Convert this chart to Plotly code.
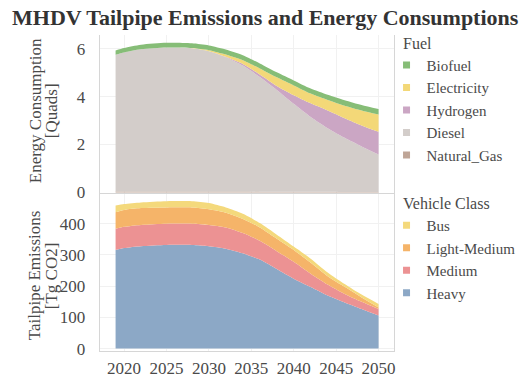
import plotly.graph_objects as go

# ---- data ----
years = [2019, 2020, 2022, 2025, 2028, 2030, 2032, 2034, 2036, 2038, 2040, 2042, 2044, 2046, 2048, 2050]

# Energy consumption by fuel [Quads]
natural_gas = [0.04, 0.04, 0.04, 0.04, 0.04, 0.04, 0.04, 0.04, 0.03, 0.03, 0.03, 0.03, 0.03, 0.02, 0.02, 0.02]
diesel      = [5.71, 5.81, 5.94, 6.01, 5.98, 5.86, 5.61, 5.26, 4.79, 4.25, 3.67, 3.12, 2.65, 2.26, 1.90, 1.56]
hydrogen    = [0.00, 0.00, 0.00, 0.00, 0.00, 0.00, 0.02, 0.07, 0.11, 0.17, 0.36, 0.57, 0.74, 0.82, 0.88, 0.95]
electricity = [0.00, 0.00, 0.00, 0.00, 0.01, 0.04, 0.09, 0.15, 0.25, 0.36, 0.41, 0.41, 0.44, 0.52, 0.62, 0.72]
biofuel     = [0.18, 0.18, 0.19, 0.20, 0.20, 0.20, 0.21, 0.21, 0.21, 0.21, 0.21, 0.21, 0.22, 0.23, 0.23, 0.23]

# Tailpipe emissions by vehicle class [Tg CO2]
heavy        = [316, 322, 328, 332, 332, 328, 320, 305, 285, 255, 224, 197, 170, 148, 127, 106]
medium       = [68, 68, 68, 68, 68, 68, 68, 65, 60, 57, 54, 43, 35, 27, 23, 21]
light_medium = [53, 54, 54, 52, 52, 50, 47, 45, 43, 40, 38, 35, 27, 23, 14, 5]
bus          = [21, 19, 18, 20, 20, 20, 17, 17, 14, 13, 11, 13, 12, 9, 9, 11]

x_ticks = [2020, 2025, 2030, 2035, 2040, 2045, 2050]

fuel_series = [  # bottom to top of the stack
    ("Natural_Gas", natural_gas, "#bfa597"),
    ("Diesel", diesel, "#d3cdca"),
    ("Hydrogen", hydrogen, "#cba6c4"),
    ("Electricity", electricity, "#f3d878"),
    ("Biofuel", biofuel, "#86bd77"),
]
class_series = [
    ("Heavy", heavy, "#8ca8c6"),
    ("Medium", medium, "#ec9293"),
    ("Light-Medium", light_medium, "#f5b469"),
    ("Bus", bus, "#f4d97c"),
]

FONT = "Liberation Serif"
TXT = "#4a4a4a"


def f(size, color=TXT):
    return dict(family=FONT, size=size, color=color)


fig = go.Figure()

for name, vals, col in fuel_series:
    fig.add_trace(go.Scatter(
        x=years, y=vals, name=name, stackgroup="energy", mode="lines",
        line=dict(width=0, shape="spline", smoothing=0.7), fillcolor=col,
        xaxis="x", yaxis="y", showlegend=False, hoverinfo="skip"))
    fig.add_trace(go.Scatter(
        x=[None], y=[None], name=name, mode="markers",
        marker=dict(symbol="square", size=7, color=col),
        xaxis="x", yaxis="y", legend="legend"))

for name, vals, col in class_series:
    fig.add_trace(go.Scatter(
        x=years, y=vals, name=name, stackgroup="emis", mode="lines",
        line=dict(width=0, shape="spline", smoothing=0.7), fillcolor=col,
        xaxis="x2", yaxis="y2", showlegend=False, hoverinfo="skip"))
    fig.add_trace(go.Scatter(
        x=[None], y=[None], name=name, mode="markers",
        marker=dict(symbol="square", size=7, color=col),
        xaxis="x2", yaxis="y2", legend="legend2"))

W, H = 530, 384
px = lambda p: p / W
py = lambda p: 1 - p / H

xdom = [px(100), px(395)]
xrange_ = [2017.12, 2051.76]
grid = "#f1f1f1"
axline = "#d6d6d6"

fig.update_layout(
    width=W, height=H,
    margin=dict(l=0, r=0, t=0, b=0),
    paper_bgcolor="white", plot_bgcolor="white",
    font=f(16),
    xaxis=dict(domain=xdom, range=xrange_, anchor="y", showticklabels=False,
               tickvals=x_ticks, showgrid=True, gridcolor=grid, zeroline=False,
               showline=True, linecolor=axline, linewidth=1),
    yaxis=dict(domain=[py(198), py(36)], range=[-0.04, 6.57], anchor="x",
               tickvals=[0, 2, 4, 6], showgrid=True, gridcolor=grid, zeroline=False,
               showline=True, linecolor=axline, mirror=True, ticks="",
               ticklabelstandoff=10, tickfont=f(17)),
    xaxis2=dict(domain=xdom, range=xrange_, anchor="y2", tickvals=x_ticks,
                showgrid=True, gridcolor=grid, zeroline=False,
                showline=True, linecolor=axline, ticks="",
                ticklabelstandoff=2, tickfont=f(17)),
    yaxis2=dict(domain=[py(359), py(199)], range=[-6.3, 494], anchor="x2",
                tickvals=[0, 100, 200, 300, 400], showgrid=True, gridcolor=grid,
                zeroline=False, showline=True, linecolor=axline, mirror=True,
                ticks="", ticklabelstandoff=10, tickfont=f(17)),
    legend=dict(x=px(388), y=py(50), xanchor="left", yanchor="top",
                traceorder="reversed", font=f(15),
                bgcolor="rgba(0,0,0,0)", itemwidth=30, tracegroupgap=0),
    legend2=dict(x=px(388), y=py(214), xanchor="left", yanchor="top",
                 traceorder="reversed", font=f(15),
                 bgcolor="rgba(0,0,0,0)", itemwidth=30, tracegroupgap=0),
    showlegend=True,
    annotations=[
        dict(text="<b>MHDV Tailpipe Emissions and Energy Consumptions</b>",
             x=px(10), y=py(18), xref="paper", yref="paper", xanchor="left",
             yanchor="middle", showarrow=False, font=f(22, "#333333")),
        dict(text="Energy Consumption", textangle=-90,
             x=px(35), y=py(113), xref="paper", yref="paper", xanchor="center",
             yanchor="middle", showarrow=False, font=f(17)),
        dict(text="[Quads]", textangle=-90,
             x=px(52), y=py(113), xref="paper", yref="paper", xanchor="center",
             yanchor="middle", showarrow=False, font=f(17)),
        dict(text="Tailpipe Emissions", textangle=-90,
             x=px(35), y=py(282), xref="paper", yref="paper", xanchor="center",
             yanchor="middle", showarrow=False, font=f(17)),
        dict(text="[Tg CO2]", textangle=-90,
             x=px(52), y=py(282), xref="paper", yref="paper", xanchor="center",
             yanchor="middle", showarrow=False, font=f(17)),
        dict(text="Fuel", x=px(403), y=py(45), xref="paper", yref="paper",
             xanchor="left", yanchor="middle", showarrow=False, font=f(16)),
        dict(text="Vehicle Class", x=px(403), y=py(208), xref="paper", yref="paper",
             xanchor="left", yanchor="middle", showarrow=False, font=f(16)),
    ],
)

fig.write_html("out.html")
